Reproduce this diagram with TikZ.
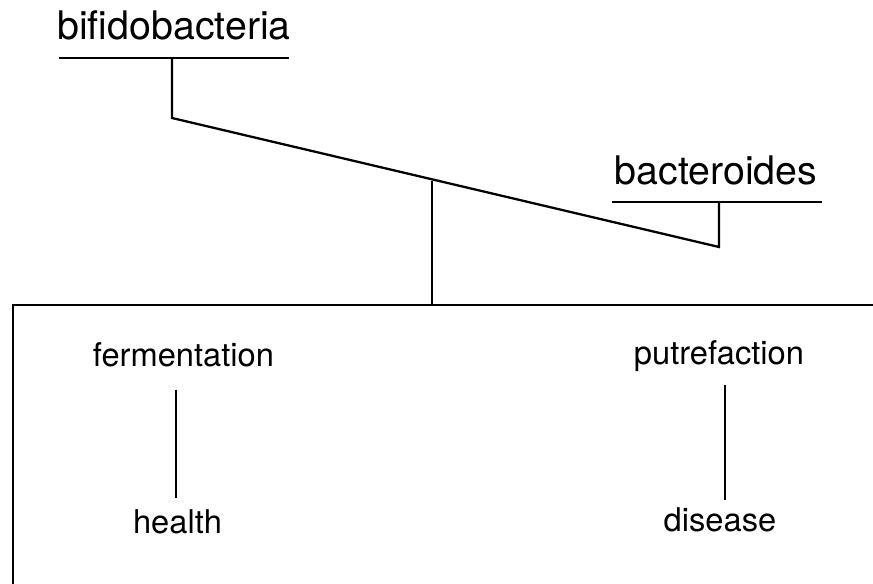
\documentclass[tikz,border=0pt]{standalone}
\usepackage{fontspec}
\setmainfont{TeX Gyre Heros}

\begin{document}
\begin{tikzpicture}[
  x=0.02cm, y=-0.02cm,
  lbl/.style={anchor=base, inner sep=0pt, font=\fontsize{22.4}{26}\selectfont},
  sublbl/.style={lbl, font=\fontsize{18.6}{22}\selectfont},
  bar/.style={line width=1.3pt, line join=miter}
]
  \useasboundingbox (0,0) rectangle (873,584);

  % labels
  \node[lbl] (bifido) at (174,40) {bifidobacteria};
  \node[lbl] (bactero) at (716,185) {bacteroides};
  \node[sublbl] (ferm) at (183.5,367) {fermentation};
  \node[sublbl] (putre) at (719,365) {putrefaction};
  \node[sublbl] (health) at (177.5,533) {health};
  \node[sublbl] (disease) at (720,531) {disease};

  % balance points
  \coordinate (bifL) at (59,58);
  \coordinate (bifR) at (289,58);
  \coordinate (bifH) at (172,58);
  \coordinate (beamL) at (172,118);
  \coordinate (beamR) at (719,247);
  \coordinate (bacH) at (719,202);
  \coordinate (bacL) at (612,202);
  \coordinate (bacR) at (822,202);
  \coordinate (pivT) at (432,181);
  \coordinate (pivB) at (432,305);
  \coordinate (baseR) at (873,305);
  \coordinate (baseL) at (13,305);
  \coordinate (baseB) at (13,584);
  \coordinate (fermB) at (176,390);
  \coordinate (healthT) at (176,498);
  \coordinate (putreB) at (725,385);
  \coordinate (diseaseT) at (725,500);

  \draw[bar] (bifL) -- (bifR);
  \draw[bar] (bacL) -- (bacR);
  \draw[bar] (bifH) -- (beamL) -- (beamR) -- (bacH);
  \draw[bar] (pivT) -- (pivB);
  \draw[bar] (baseR) -- (baseL) -- (baseB);
  \draw[bar] (fermB) -- (healthT);
  \draw[bar] (putreB) -- (diseaseT);
\end{tikzpicture}
\end{document}
